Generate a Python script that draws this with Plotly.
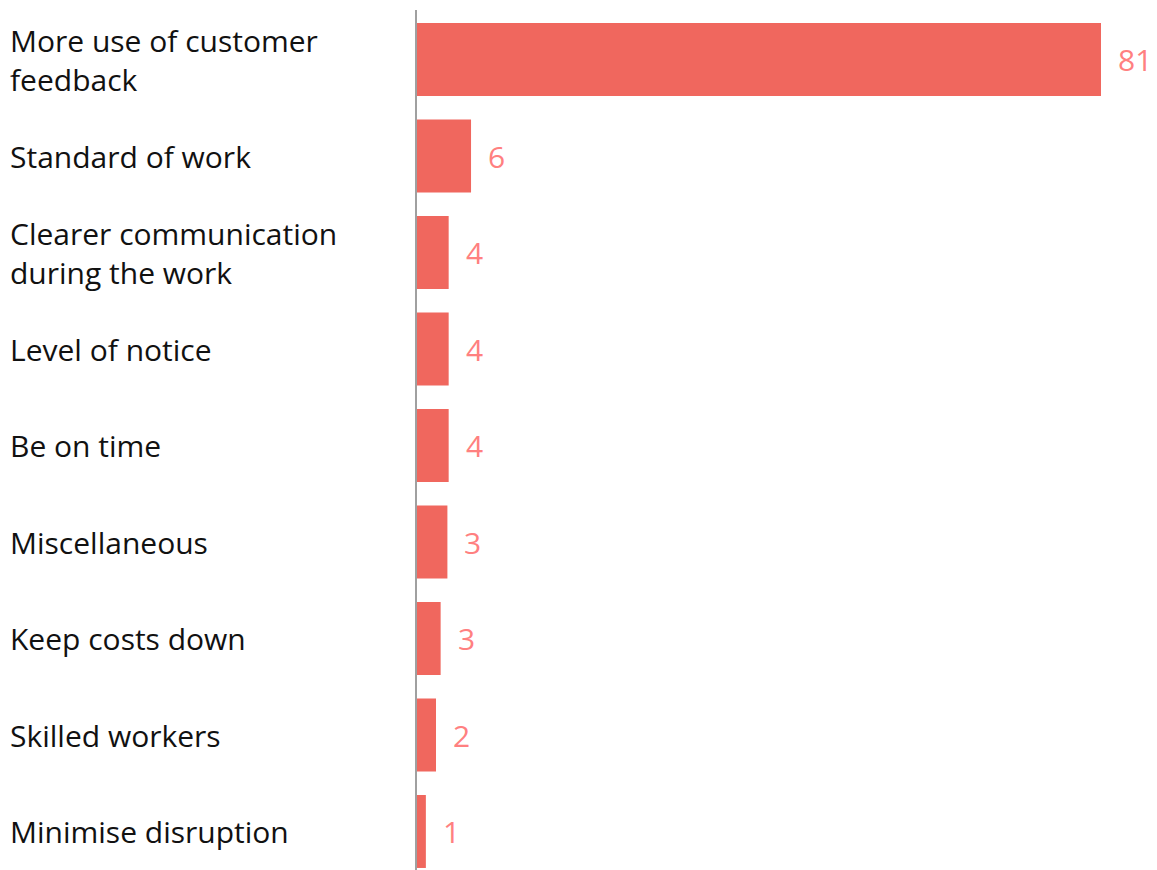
import plotly.graph_objects as go

categories = [
    "More use of customer<br>feedback",
    "Standard of work",
    "Clearer communication<br>during the work",
    "Level of notice",
    "Be on time",
    "Miscellaneous",
    "Keep costs down",
    "Skilled workers",
    "Minimise disruption",
]
values = [81, 6.4, 3.75, 3.75, 3.75, 3.6, 2.8, 2.25, 1.05]
value_labels = ["81", "6", "4", "4", "4", "3", "3", "2", "1"]

BAR_COLOR = "#F0675E"
LABEL_COLOR = "#FF8080"
FONT = "Open Sans, Noto Sans, sans-serif"
FS = 30

fig = go.Figure()
fig.add_trace(go.Bar(
    x=values,
    y=categories,
    orientation="h",
    marker=dict(color=BAR_COLOR, line=dict(width=0)),
    hoverinfo="skip",
))

annotations = []
for cat, v, lab in zip(categories, values, value_labels):
    annotations.append(dict(
        x=v, y=cat, xref="x", yref="y", text=lab, showarrow=False,
        xanchor="left", yanchor="middle", xshift=15,
        font=dict(family=FONT, size=FS, color=LABEL_COLOR),
    ))
    annotations.append(dict(
        x=0, y=cat, xref="paper", yref="y", text=cat, showarrow=False,
        xanchor="left", yanchor="middle", align="left", xshift=-409,
        font=dict(family=FONT, size=FS, color="#111111"),
    ))

fig.update_layout(
    width=1149, height=862,
    margin=dict(l=409, r=0, t=2, b=0),
    paper_bgcolor="white", plot_bgcolor="white",
    bargap=0.244,
    showlegend=False,
    annotations=annotations,
    xaxis=dict(range=[0, 740 / (684 / 81)], visible=False, fixedrange=True),
    yaxis=dict(
        range=[8.399, -0.513], showticklabels=False, ticks="",
        showline=True, linecolor="#A0A0A0", linewidth=2,
        showgrid=False, zeroline=False, fixedrange=True,
    ),
)

fig.write_html("out.html")
